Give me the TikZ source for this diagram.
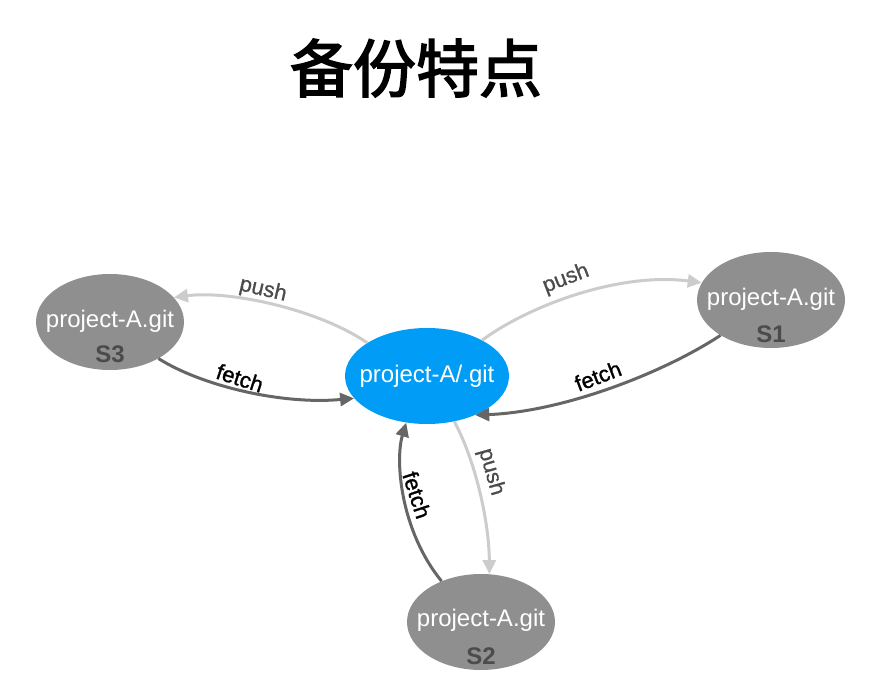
\documentclass[tikz,border=0pt]{standalone}
\usepackage{fontspec}
\setmainfont{Liberation Sans}
\newfontfamily\cjkmed[FakeBold=2.5]{Noto Sans CJK SC}
\newfontfamily\labpush[FakeBold=0.8]{Liberation Sans}
\newfontfamily\labfetch[FakeBold=1.2]{Liberation Sans}
\usetikzlibrary{arrows.meta,shapes.geometric}
\definecolor{hubblue}{RGB}{0,156,245}
\definecolor{srvgrey}{RGB}{143,143,143}
\definecolor{pushgrey}{RGB}{204,204,204}
\definecolor{fetchgrey}{RGB}{102,102,102}
\definecolor{labgrey}{RGB}{75,75,75}
\tikzset{
  repo/.style={ellipse, minimum width=148pt, minimum height=96pt, inner sep=0pt,
    fill=srvgrey},
  hub/.style={ellipse, minimum width=164pt, minimum height=96pt, inner sep=0pt,
    fill=hubblue},
  repotext/.style={text=white, font=\fontsize{24}{26}\selectfont, inner sep=0pt},
  srvname/.style={text=labgrey, font=\fontsize{24}{26}\selectfont\bfseries, inner sep=0pt},
  pusharrow/.style={draw=pushgrey, line width=3pt, -{Triangle[length=14pt,width=13pt]}},
  fetcharrow/.style={draw=fetchgrey, line width=3pt, -{Triangle[length=14pt,width=13pt]}},
  pushlab/.style={text=labgrey, font=\labpush\fontsize{22}{24}\selectfont, inner sep=0pt},
  fetchlab/.style={text=black, font=\labfetch\fontsize{22}{24}\selectfont, inner sep=0pt},
}
\begin{document}
\begin{tikzpicture}[x=1pt,y=-1pt]
\useasboundingbox (0,0) rectangle (878,684);
\node[font=\cjkmed\fontsize{63}{68}\selectfont, inner sep=0pt] (title) at (416,68) {备份特点};

\node[hub] (c) at (427,376) {};
\node[repo] (s3) at (110,322) {};
\node[repo] (s1) at (771,300) {};
\node[repo] (s2) at (481,622) {};
\node[repotext] (ct) at (427,376) {project-A/.git};
\node[repotext] (t3) at (110,321) {project-A.git};
\node[repotext] (t1) at (771,299) {project-A.git};
\node[repotext] (t2) at (481,620) {project-A.git};
\node[srvname] (n3) at (110,354) {S3};
\node[srvname] (n1) at (771,334) {S1};
\node[srvname] (n2) at (481,656) {S2};

% S3
\draw[pusharrow] (c.151) .. controls (320,310) and (230,290) .. (s3.21);
\draw[fetcharrow] (s3.-37) .. controls (200,385) and (280,405) .. (c.197);
% S1
\draw[pusharrow] (c.33) .. controls (530,305) and (620,272) .. (s1.166);
\draw[fetcharrow] (s1.215) .. controls (660,375) and (560,412) .. (c.321);
% S2
\draw[pusharrow] (c.-59) .. controls (475,460) and (489,520) .. (s2.80);
\draw[fetcharrow] (s2.134) .. controls (400,530) and (395,460) .. (c.-114);

\node[pushlab, rotate=-13] (p3) at (263,290) {push};
\node[fetchlab, rotate=-18] (f3) at (240,378) {fetch};
\node[pushlab, rotate=21] (p1) at (566,279) {push};
\node[fetchlab, rotate=21] (f1) at (598,376) {fetch};
\node[pushlab, rotate=-74] (p2) at (491,472) {push};
\node[fetchlab, rotate=-72] (f2) at (417,495) {fetch};
\end{tikzpicture}
\end{document}
